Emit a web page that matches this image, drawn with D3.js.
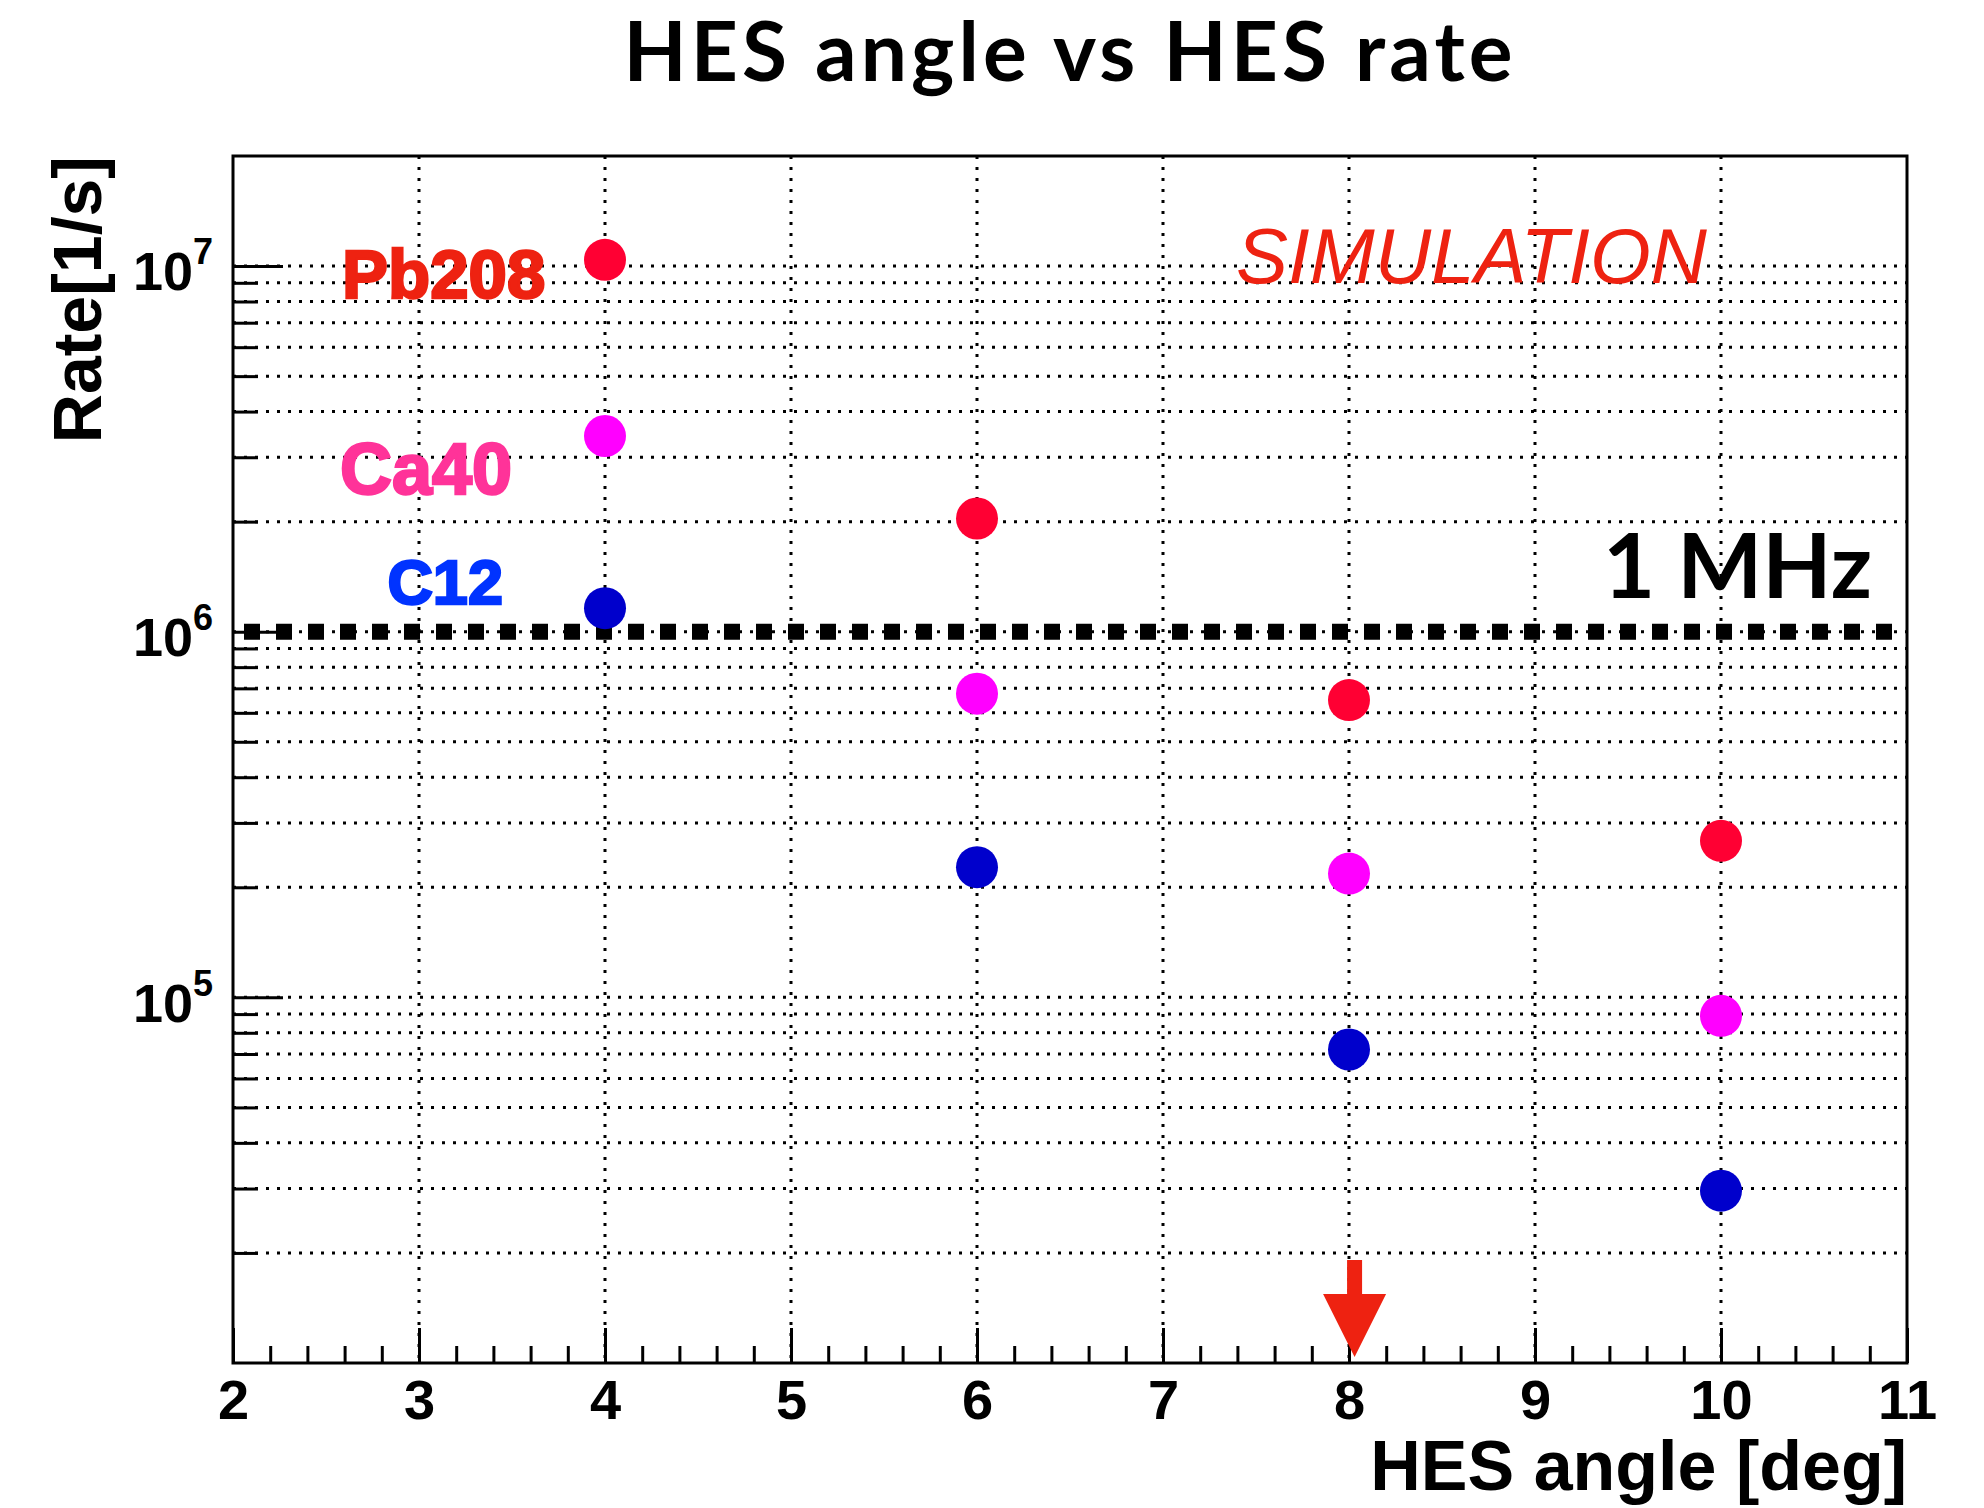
<!DOCTYPE html>
<html>
<head>
<meta charset="utf-8">
<script src="https://cdn.jsdelivr.net/npm/d3@7"></script>
<style>
  body { margin: 0; background: #fff; }
  svg { display: block; }
</style>
</head>
<body>
<div class="chart"></div>
<script>
// data
var angles = [4, 6, 8, 10];
var pb208 = [1.04e7, 2.04e6, 6.5e5, 2.68e5];
var ca40 = [3.43e6, 6.77e5, 2.18e5, 8.9e4];
var c12 = [1.16e6, 2.27e5, 7.2e4, 2.96e4];
var seriesNames = ['Pb208', 'Ca40', 'C12'];
var xTicks = [2, 3, 4, 5, 6, 7, 8, 9, 10, 11];
var yMajor = [1e5, 1e6, 1e7];
var threshold = 1e6;
var arrowAngle = 8.03;

var svgWidth = 1984;
var svgHeight = 1508;
var margin = { top: 156, right: 77, bottom: 145, left: 233 };
var width = svgWidth - margin.left - margin.right;
var height = svgHeight - margin.top - margin.bottom;

var svg = d3.select('.chart')
  .append('svg')
  .attr('width', svgWidth)
  .attr('height', svgHeight);

var chartGroup = svg.append('g')
  .attr('transform', `translate(${margin.left}, ${margin.top})`);

var x = d3.scaleLinear().domain([2, 11]).range([0, width]);
var y = d3.scaleLog().domain([1e4, 2e7]).range([height, 0]);

// minor values
var xMinor = d3.range(2, 11.001, 0.2).filter(v => Math.abs(v - Math.round(v)) > 0.01);
var yAll = [];
[1e4, 1e5, 1e6, 1e7].forEach(function(d) {
  for (var k = 1; k <= 9; k++) {
    var v = d * k;
    if (v > 1e4 && v < 2e7) yAll.push(v);
  }
});
var yMinor = yAll.filter(v => yMajor.indexOf(v) < 0);

// grid
chartGroup.append('g').selectAll('line')
  .data(yAll)
  .enter()
  .append('line')
  .attr('x1', 0).attr('x2', width)
  .attr('y1', d => y(d)).attr('y2', d => y(d))
  .attr('stroke', '#000')
  .attr('stroke-width', 3)
  .attr('stroke-dasharray', '3,8');

chartGroup.append('g').selectAll('line')
  .data(xTicks.slice(1, -1))
  .enter()
  .append('line')
  .attr('x1', d => x(d)).attr('x2', d => x(d))
  .attr('y1', 0).attr('y2', height)
  .attr('stroke', '#000')
  .attr('stroke-width', 3)
  .attr('stroke-dasharray', '3,8');

// axes
var bottomMajor = d3.axisBottom(x).tickValues(xTicks).tickSize(-35).tickPadding(16).tickFormat(d3.format('d'));
var bottomMinor = d3.axisBottom(x).tickValues(xMinor).tickSize(-17).tickFormat('');
var leftMajor = d3.axisLeft(y).tickValues(yMajor).tickSize(-50).tickPadding(20).tickFormat('');
var leftMinor = d3.axisLeft(y).tickValues(yMinor).tickSize(-25).tickFormat('');

var xAxisG = chartGroup.append('g')
  .attr('transform', `translate(0, ${height})`)
  .call(bottomMajor);
chartGroup.append('g')
  .attr('transform', `translate(0, ${height})`)
  .call(bottomMinor);
var yAxisG = chartGroup.append('g').call(leftMajor);
chartGroup.append('g').call(leftMinor);

chartGroup.selectAll('.domain').remove();
chartGroup.selectAll('.tick line').attr('stroke', '#000').attr('stroke-width', 3);

xAxisG.selectAll('text')
  .attr('font-family', '"Liberation Sans", Arial, sans-serif')
  .attr('font-weight', 'bold')
  .attr('font-size', 56)
  .attr('fill', '#000');

yAxisG.selectAll('.tick text')
  .attr('font-family', '"Liberation Sans", Arial, sans-serif')
  .attr('font-weight', 'bold')
  .attr('font-size', 54)
  .attr('fill', '#000')
  .attr('dy', '0.44em')
  .each(function(d) {
    var t = d3.select(this);
    t.text(null);
    t.append('tspan').text('10');
    t.append('tspan').attr('dy', -26).attr('font-size', 36).text(Math.round(Math.log10(d)));
  });

// frame
chartGroup.append('rect')
  .attr('x', 0).attr('y', 0)
  .attr('width', width).attr('height', height)
  .attr('fill', 'none')
  .attr('stroke', '#000')
  .attr('stroke-width', 3);

// 1 MHz line
chartGroup.append('line')
  .attr('x1', x(2) + 11).attr('x2', x(11) - 15)
  .attr('y1', y(threshold)).attr('y2', y(threshold))
  .attr('stroke', '#000')
  .attr('stroke-width', 16)
  .attr('stroke-dasharray', '16,16');

// points
var seriesData = [pb208, ca40, c12];
var pointColors = ['#ff0033', '#ff00ff', '#0000cc'];
seriesData.forEach(function(vals, i) {
  chartGroup.append('g').selectAll('circle')
    .data(angles.map((a, j) => ({ angle: a, rate: vals[j] })))
    .enter()
    .append('circle')
    .attr('cx', d => x(d.angle))
    .attr('cy', d => y(d.rate))
    .attr('r', 21)
    .attr('fill', pointColors[i]);
});

// series labels
var labelColors = ['#ee2211', '#ff3399', '#0033ff'];
var labelSizes = [69, 72, 63];
var labelPos = [[2.586, 8.2e6], [2.575, 2.38e6], [2.83, 1.19e6]];
seriesNames.forEach(function(name, i) {
  chartGroup.append('text')
    .attr('x', x(labelPos[i][0]))
    .attr('y', y(labelPos[i][1]))
    .attr('font-family', '"Liberation Sans", Arial, sans-serif')
    .attr('font-weight', 'bold')
    .attr('font-size', labelSizes[i])
    .attr('fill', labelColors[i])
    .attr('stroke', labelColors[i])
    .attr('stroke-width', 2.5)
    .text(name);
});

// SIMULATION
svg.append('text')
  .attr('x', 1236).attr('y', 283)
  .attr('font-family', '"Liberation Sans", Arial, sans-serif')
  .attr('font-style', 'italic')
  .attr('font-size', 78)
  .attr('fill', '#ee2211')
  .text('SIMULATION');

// 1 MHz label
svg.append('text')
  .attr('x', 1872).attr('y', 598)
  .attr('text-anchor', 'end')
  .attr('font-family', 'Lato, sans-serif')
  .attr('font-weight', 'bold')
  .attr('font-size', 90)
  .attr('fill', '#000')
  .text('1 MHz');

// arrow at the chosen angle
var ax = x(arrowAngle);
chartGroup.append('path')
  .attr('d', `M${ax - 7.5},${height - 103} L${ax + 7.5},${height - 103} L${ax + 7.5},${height - 69}` +
    ` L${ax + 31.5},${height - 69} L${ax},${height - 6} L${ax - 31.5},${height - 69} L${ax - 7.5},${height - 69} Z`)
  .attr('fill', '#ee2211');

// title, spread to the width it has in the original
var title = svg.append('text')
  .attr('x', 1070).attr('y', 81)
  .attr('text-anchor', 'middle')
  .attr('font-family', 'Lato, sans-serif')
  .attr('font-weight', 'bold')
  .attr('font-size', 82)
  .attr('fill', '#000')
  .text('HES angle vs HES rate');
var titleLen = title.node().getComputedTextLength();
var titleChars = 'HES angle vs HES rate'.length;
title.attr('letter-spacing', Math.max(0, (889 - titleLen) / (titleChars - 1)));

// axis titles
svg.append('text')
  .attr('x', 1907).attr('y', 1490)
  .attr('text-anchor', 'end')
  .attr('font-family', '"Liberation Sans", Arial, sans-serif')
  .attr('font-weight', 'bold')
  .attr('font-size', 70)
  .attr('fill', '#000')
  .text('HES angle [deg]');

svg.append('text')
  .attr('transform', 'translate(101, 156) rotate(-90)')
  .attr('text-anchor', 'end')
  .attr('font-family', '"Liberation Sans", Arial, sans-serif')
  .attr('font-weight', 'bold')
  .attr('font-size', 68)
  .attr('fill', '#000')
  .text('Rate[1/s]');
</script>
</body>
</html>
